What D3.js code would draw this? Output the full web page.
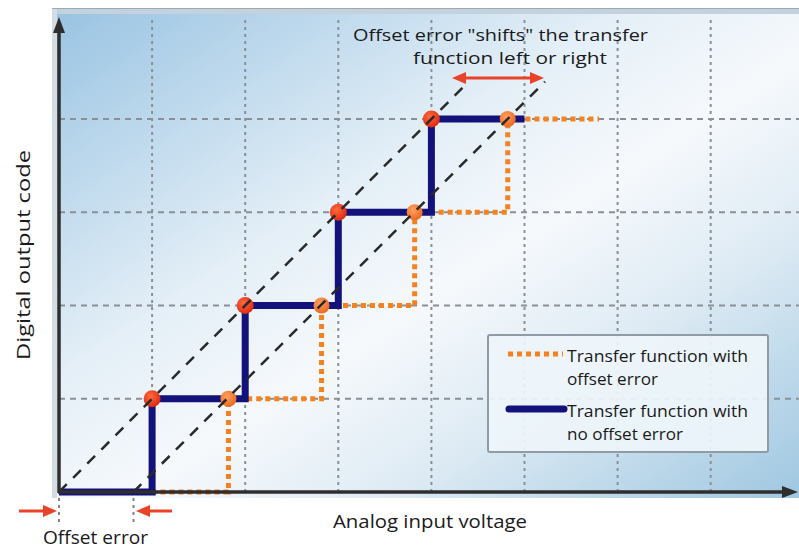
<!DOCTYPE html>
<html>
<head>
<meta charset="utf-8">
<script src="https://cdn.jsdelivr.net/npm/d3@7"></script>
<style>
  html, body { margin: 0; padding: 0; background: #ffffff; }
  svg { display: block; }
  text { font-family: "Open Sans", "Noto Sans", sans-serif; fill: #1a1a1a; }
</style>
</head>
<body>
<svg id="chart" width="799" height="550"></svg>
<script>
// ---------------- data ----------------
const gridX = [1, 2, 3, 4, 5, 6, 7];          // vertical grid positions (input units)
const gridY = [1, 2, 3, 4];                   // horizontal grid positions (output codes)
// ideal transfer function (no offset error): step corners
const idealX = [0, 1, 1, 2, 2, 3, 3, 4, 4, 5];
const idealY = [0, 0, 1, 1, 2, 2, 3, 3, 4, 4];
// transfer function with offset error: step corners
const offsetX = [0.8, 1.82, 1.82, 2.82, 2.82, 3.82, 3.82, 4.82, 4.82, 5.8];
const offsetY = [0, 0, 1, 1, 2, 2, 3, 3, 4, 4];
// transition points (dots)
const idealDotX = [1, 2, 3, 4];
const offsetDotX = [1.82, 2.82, 3.82, 4.82];
const dotY = [1, 2, 3, 4];
// dashed diagonal reference lines
const idealLineX = [0, 4.4];
const offsetLineX = [0.8, 5.22];
const diagLineY = [0, 4.4];
// offset error markers below axis
const offsetMarks = [0, 0.8];
// texts
const xTitle = "Analog input voltage";
const yTitle = "Digital output code";
const noteLines = ["Offset error \"shifts\" the transfer", "function left or right"];
const offsetLabel = "Offset error";
const legendLabels = [["Transfer function with", "offset error"], ["Transfer function with", "no offset error"]];

// ---------------- setup ----------------
const svg = d3.select("#chart");
const x = d3.scaleLinear().domain([0, 8]).range([59, 59 + 8 * 93.1]);
const y = d3.scaleLinear().domain([0, 4]).range([492, 119]);

const defs = svg.append("defs");
const bg = defs.append("linearGradient").attr("id", "bg")
  .attr("x1", 0).attr("y1", 0).attr("x2", 1).attr("y2", 1);
[[0, "#98c3e2"], [0.38, "#e4eff7"], [0.55, "#f6f9fc"], [0.72, "#deebf4"], [1, "#9fc7e1"]]
  .forEach(([o, c]) => bg.append("stop").attr("offset", o).attr("stop-color", c));

const redGrad = defs.append("radialGradient").attr("id", "redDot")
  .attr("cx", 0.4).attr("cy", 0.35).attr("r", 0.65);
redGrad.append("stop").attr("offset", 0).attr("stop-color", "#ff6a3d");
redGrad.append("stop").attr("offset", 1).attr("stop-color", "#dd2a12");
const orGrad = defs.append("radialGradient").attr("id", "orDot")
  .attr("cx", 0.4).attr("cy", 0.35).attr("r", 0.65);
orGrad.append("stop").attr("offset", 0).attr("stop-color", "#ffa060");
orGrad.append("stop").attr("offset", 1).attr("stop-color", "#ea6a22");

// ---------------- frame & background ----------------
svg.append("rect").attr("x", 52).attr("y", 8).attr("width", 747).attr("height", 490)
  .attr("fill", "url(#bg)");
svg.append("rect").attr("x", 52).attr("y", 8).attr("width", 747).attr("height", 6)
  .attr("fill", "#c3d2dd");
svg.append("rect").attr("x", 52).attr("y", 8).attr("width", 5).attr("height", 490)
  .attr("fill", "#d4dde3");
svg.append("line").attr("x1", 52).attr("x2", 799).attr("y1", 8.5).attr("y2", 8.5)
  .attr("stroke", "#9aa9b4").attr("stroke-width", 1);

// ---------------- grid ----------------
const grid = svg.append("g");
grid.selectAll("line.gx").data(gridX).join("line")
  .attr("x1", d => x(d)).attr("x2", d => x(d))
  .attr("y1", 20).attr("y2", y(0))
  .attr("stroke", "#8a9096").attr("stroke-width", 2)
  .attr("stroke-dasharray", "3,4");
grid.selectAll("line.gy").data(gridY).join("line")
  .attr("x1", x(0)).attr("x2", 799)
  .attr("y1", d => y(d)).attr("y2", d => y(d))
  .attr("stroke", "#8a9096").attr("stroke-width", 2)
  .attr("stroke-dasharray", "6,5");

// ---------------- transfer functions ----------------
const line = d3.line().x(d => x(d[0])).y(d => y(d[1]));
const offsetPts = offsetX.map((v, i) => [v, offsetY[i]]);
const idealPts = idealX.map((v, i) => [v, idealY[i]]);

svg.append("path").datum(offsetPts).attr("d", line)
  .attr("fill", "none").attr("stroke", "#f5821f").attr("stroke-width", 5)
  .attr("stroke-dasharray", "5,4");
svg.append("path").datum(idealPts).attr("d", line)
  .attr("fill", "none").attr("stroke", "#12127a").attr("stroke-width", 7)
  .attr("stroke-linejoin", "miter");

svg.selectAll("circle.od").data(offsetDotX).join("circle")
  .attr("cx", d => x(d)).attr("cy", (d, i) => y(dotY[i])).attr("r", 8)
  .attr("fill", "url(#orDot)");
svg.selectAll("circle.id").data(idealDotX).join("circle")
  .attr("cx", d => x(d)).attr("cy", (d, i) => y(dotY[i])).attr("r", 8.5)
  .attr("fill", "url(#redDot)");

[idealLineX, offsetLineX].forEach(lx => {
  svg.append("line")
    .attr("x1", x(lx[0])).attr("y1", y(diagLineY[0]))
    .attr("x2", x(lx[1])).attr("y2", y(diagLineY[1]))
    .attr("stroke", "#2a2a2a").attr("stroke-width", 2.5)
    .attr("stroke-dasharray", "11,9");
});

// ---------------- axes ----------------
svg.append("line").attr("x1", x(0)).attr("x2", x(0)).attr("y1", y(0) + 1).attr("y2", 28)
  .attr("stroke", "#2e2e2e").attr("stroke-width", 3.5);
svg.append("path").attr("d", `M${x(0)},17 L${x(0) - 6},33 L${x(0) + 6},33 Z`).attr("fill", "#2e2e2e");
svg.append("line").attr("x1", x(0) - 1).attr("x2", 786).attr("y1", y(0)).attr("y2", y(0))
  .attr("stroke", "#2e2e2e").attr("stroke-width", 3.5);
svg.append("path").attr("d", `M798,${y(0)} L782,${y(0) - 6} L782,${y(0) + 6} Z`).attr("fill", "#2e2e2e");

// ---------------- legend ----------------
const lg = svg.append("g");
lg.append("rect").attr("x", 488).attr("y", 335).attr("width", 280).attr("height", 117)
  .attr("rx", 2).attr("fill", "#eef5fa").attr("fill-opacity", 0.92)
  .attr("stroke", "#8f9ca6").attr("stroke-width", 2);
lg.append("line").attr("x1", 508).attr("x2", 563).attr("y1", 354).attr("y2", 354)
  .attr("stroke", "#f5821f").attr("stroke-width", 5).attr("stroke-dasharray", "5,4");
lg.append("line").attr("x1", 509).attr("x2", 564).attr("y1", 409).attr("y2", 409)
  .attr("stroke", "#12127a").attr("stroke-width", 7).attr("stroke-linecap", "round");
const legendWidths = [[181, 91], [181, 116]];
legendLabels.forEach((lines, i) => {
  lines.forEach((t, j) => {
    lg.append("text").attr("x", 567).attr("y", 362 + i * 55 + j * 23)
      .attr("font-size", 16.5).attr("textLength", legendWidths[i][j])
      .attr("lengthAdjust", "spacingAndGlyphs").text(t);
  });
});

// ---------------- annotations ----------------
const red = "#ea4229";
function arrow(x1, x2, yy, both) {
  const g = svg.append("g");
  const dir = x2 > x1 ? 1 : -1;
  g.append("line").attr("x1", both ? x1 + dir * 8 : x1).attr("x2", x2 - dir * 8)
    .attr("y1", yy).attr("y2", yy).attr("stroke", red).attr("stroke-width", 3);
  g.append("path").attr("d", `M${x2},${yy} L${x2 - dir * 14},${yy - 6} L${x2 - dir * 14},${yy + 6} Z`).attr("fill", red);
  if (both) g.append("path").attr("d", `M${x1},${yy} L${x1 + dir * 14},${yy - 6} L${x1 + dir * 14},${yy + 6} Z`).attr("fill", red);
}
arrow(452, 544, 78, true);
arrow(19, 57, 511, false);
arrow(172, 136, 511, false);

offsetMarks.forEach(v => {
  svg.append("line").attr("x1", x(v)).attr("x2", x(v)).attr("y1", 498).attr("y2", 524)
    .attr("stroke", "#7e858b").attr("stroke-width", 2).attr("stroke-dasharray", "3,4");
});

function label(t, xx, yy, size, len) {
  return svg.append("text").attr("x", xx).attr("y", yy)
    .attr("font-size", size).attr("textLength", len).attr("lengthAdjust", "spacingAndGlyphs").text(t);
}
label(noteLines[0], 353, 41, 17, 295);
label(noteLines[1], 413, 64, 17, 194);
label(xTitle, 333, 528, 18.5, 194);
label(offsetLabel, 43, 544, 17.5, 105);
svg.append("text").attr("transform", "translate(30,360) rotate(-90)")
  .attr("font-size", 18.5).attr("textLength", 210).attr("lengthAdjust", "spacingAndGlyphs").text(yTitle);
</script>
</body>
</html>
